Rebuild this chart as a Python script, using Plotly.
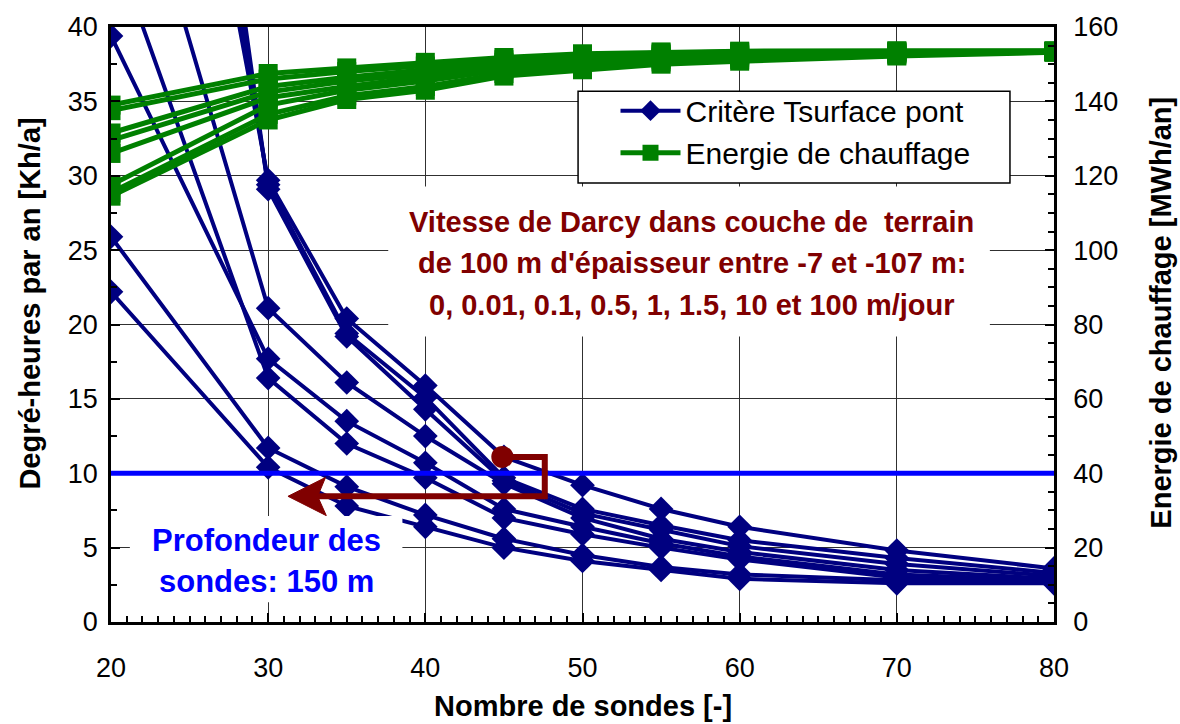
import plotly.graph_objects as go

# ---------------- data ----------------
nb_sondes = [20, 30, 35, 40, 45, 50, 55, 60, 70, 80]

# Degré-heures par an [Kh/a] (critère Tsurface pont), 8 vitesses de Darcy
dh_s1 = [86.0, 29.7, 20.4, 15.9, 11.1, 9.2, 7.6, 6.4, 4.8, 3.6]
dh_s2 = [95.0, 29.4, 19.4, 15.1, 9.7, 7.6, 6.5, 5.5, 4.3, 3.3]
dh_s3 = [105.0, 29.1, 19.2, 14.3, 9.5, 7.3, 6.2, 5.1, 3.9, 3.1]
dh_s4 = [57.0, 21.1, 16.1, 12.5, 9.3, 7.0, 5.6, 4.7, 3.5, 2.9]
dh_s5 = [39.4, 17.7, 13.5, 10.7, 7.6, 6.4, 5.3, 4.4, 3.2, 2.8]
dh_s6 = [46.0, 16.4, 12.0, 9.7, 7.0, 5.9, 5.0, 4.2, 3.0, 2.7]
dh_s7 = [25.9, 11.7, 9.1, 7.2, 5.6, 4.5, 3.7, 3.2, 2.8, 2.7]
dh_s8 = [22.2, 10.4, 7.8, 6.4, 5.0, 4.1, 3.5, 2.9, 2.6, 2.6]

# Energie de chauffage [MWh/an]
en_s1 = [139.0, 147.5, 149.0, 150.5, 151.8, 152.8, 153.3, 153.5, 153.6, 153.6]
en_s2 = [137.5, 146.0, 148.0, 149.5, 151.2, 152.3, 153.0, 153.3, 153.5, 153.5]
en_s3 = [131.5, 144.0, 146.5, 148.5, 150.5, 151.8, 152.6, 153.0, 153.3, 153.5]
en_s4 = [129.5, 142.5, 145.5, 147.5, 150.0, 151.2, 152.2, 152.6, 153.2, 153.4]
en_s5 = [126.0, 141.0, 144.0, 146.5, 149.2, 150.5, 151.7, 152.3, 153.0, 153.4]
en_s6 = [117.5, 139.0, 143.0, 145.5, 148.5, 150.0, 151.2, 151.9, 152.8, 153.3]
en_s7 = [115.5, 136.5, 141.5, 144.0, 147.5, 149.2, 150.6, 151.3, 152.5, 153.3]
en_s8 = [114.5, 135.0, 140.5, 143.0, 146.8, 148.5, 150.0, 150.8, 152.2, 153.2]

critere_kh = 10          # limite du critère
point_sel = (44.9, 11.1)  # point marqué
fleche_x = [47.6, 32.9, 31.26]
fleche_y = 8.45

dh_series = [dh_s1, dh_s2, dh_s3, dh_s4, dh_s5, dh_s6, dh_s7, dh_s8]
en_series = [en_s1, en_s2, en_s3, en_s4, en_s5, en_s6, en_s7, en_s8]

NAVY = "#000080"
GREEN = "#008000"
DRED = "#800000"
BLUE = "#0000FF"
FONT = "Arial, Liberation Sans, sans-serif"

fig = go.Figure()

for i, s in enumerate(dh_series):
    fig.add_trace(go.Scatter(
        x=nb_sondes, y=s, mode="lines+markers", yaxis="y",
        line=dict(color=NAVY, width=4),
        marker=dict(symbol="diamond", size=19, color=NAVY),
        name="Critère Tsurface pont", legendgroup="dh", showlegend=(i == 0)))

for i, s in enumerate(en_series):
    fig.add_trace(go.Scatter(
        x=nb_sondes, y=s, mode="lines+markers", yaxis="y2",
        line=dict(color=GREEN, width=5),
        marker=dict(symbol="square", size=19, color=GREEN),
        name="Energie de chauffage", legendgroup="en", showlegend=(i == 0)))

fig.add_trace(go.Scatter(
    x=[point_sel[0]], y=[point_sel[1]], mode="markers", yaxis="y",
    marker=dict(symbol="circle", size=22, color=DRED), showlegend=False))

shapes = [
    dict(type="line", xref="paper", x0=0, x1=1, yref="y", y0=critere_kh, y1=critere_kh,
         line=dict(color=BLUE, width=5), layer="above"),
    dict(type="path", xref="x", yref="y",
         path=f"M {point_sel[0]},{point_sel[1]} L {fleche_x[0]},{point_sel[1]} "
              f"L {fleche_x[0]},{fleche_y} L {fleche_x[1]},{fleche_y}",
         line=dict(color=DRED, width=6), layer="above"),
    dict(type="path", xref="x", yref="y",
         path=f"M {fleche_x[2]},{fleche_y} L 33.65,9.72 L 33.15,{fleche_y} L 33.7,7.15 Z",
         line=dict(color=DRED, width=1), fillcolor=DRED, layer="above"),
    dict(type="rect", xref="paper", yref="paper", x0=0.294, x1=0.932, y0=0.48, y1=0.732,
         fillcolor="white", line=dict(width=0), layer="above"),
    dict(type="rect", xref="paper", yref="paper", x0=0.020, x1=0.309, y0=0.033, y1=0.178,
         fillcolor="white", line=dict(width=0), layer="above"),
    # legend frame
    dict(type="rect", xref="paper", yref="paper", x0=0.4953, x1=0.9533, y0=0.738, y1=0.892,
         fillcolor="white", line=dict(color="black", width=1.5), layer="above"),
]

red_lines = ["Vitesse de Darcy dans couche de  terrain",
             "de 100 m d'épaisseur entre -7 et -107 m:",
             "0, 0.01, 0.1, 0.5, 1, 1.5, 10 et 100 m/jour"]
red_y = [0.673, 0.603, 0.533]
blue_lines = ["Profondeur des", "sondes: 150 m"]
blue_y = [0.137, 0.068]

annotations = []
for t, yy in zip(red_lines, red_y):
    annotations.append(dict(text=f"<b>{t}</b>", xref="paper", yref="paper", x=0.616, y=yy,
                            showarrow=False, xanchor="center", yanchor="middle",
                            font=dict(family=FONT, size=29, color=DRED)))
for t, yy in zip(blue_lines, blue_y):
    annotations.append(dict(text=f"<b>{t}</b>", xref="paper", yref="paper", x=0.165, y=yy,
                            showarrow=False, xanchor="center", yanchor="middle",
                            font=dict(family=FONT, size=31, color=BLUE)))
annotations += [
    dict(text="<b>Degré-heures par an [Kh/a]</b>", xref="paper", yref="paper",
         x=-0.086, y=0.535, textangle=-90, showarrow=False, xanchor="center", yanchor="middle",
         font=dict(family=FONT, size=29, color="black")),
    dict(text="<b>Energie de chauffage [MWh/an]</b>", xref="paper", yref="paper",
         x=1.1135, y=0.52, textangle=-90, showarrow=False, xanchor="center", yanchor="middle",
         font=dict(family=FONT, size=29, color="black")),
    dict(text="<b>Nombre de sondes [-]</b>", xref="paper", yref="paper",
         x=0.5, y=-0.142, showarrow=False, xanchor="center", yanchor="middle",
         font=dict(family=FONT, size=29, color="black")),
]

axis_common = dict(showline=True, linecolor="black", linewidth=2.5,
                   ticks="inside", ticklen=9, tickwidth=1.5, tickcolor="black",
                   zeroline=False,
                   tickfont=dict(family=FONT, size=27, color="black"))

fig.update_layout(
    width=1180, height=724, autosize=False,
    margin=dict(l=111, r=126, t=22, b=102, pad=0),
    paper_bgcolor="white", plot_bgcolor="white",
    font=dict(family=FONT, color="black"),
    xaxis=dict(range=[20, 80], tick0=20, dtick=10, showgrid=True, gridcolor="#303030",
               gridwidth=1, mirror=True, ticklabelstandoff=20,
               minor=dict(dtick=1, ticks="inside", ticklen=6, tickcolor="black", showgrid=False),
               **axis_common),
    yaxis=dict(range=[0, 40], tick0=0, dtick=5, showgrid=True, gridcolor="#303030",
               gridwidth=1, ticklabelstandoff=5,
               minor=dict(dtick=2.5, ticks="inside", ticklen=6, tickcolor="black", showgrid=False),
               **axis_common),
    yaxis2=dict(range=[0, 160], tick0=0, dtick=20, overlaying="y", side="right",
                showgrid=False, ticklabelstandoff=11,
                minor=dict(dtick=5, ticks="inside", ticklen=6, tickcolor="black", showgrid=False),
                **axis_common),
    legend=dict(x=0.535, y=0.903, xanchor="left", yanchor="top",
                bgcolor="rgba(0,0,0,0)", borderwidth=0,
                font=dict(family=FONT, size=30, color="black"),
                itemwidth=60, tracegroupgap=0),
    shapes=shapes,
    annotations=annotations,
    showlegend=True,
)

fig.write_html("out.html", config={"displayModeBar": False},
               post_script="document.body.style.margin='0';document.body.style.padding='0';")
